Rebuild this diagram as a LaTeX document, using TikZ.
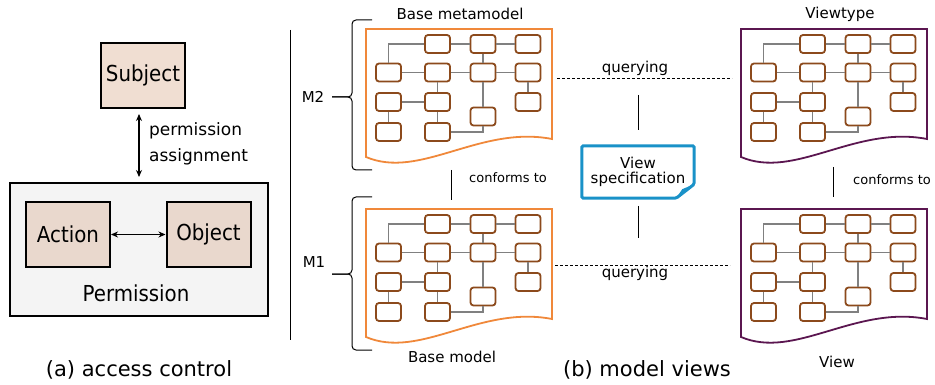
\documentclass[tikz,border=0pt]{standalone}
\usepackage{fontspec}
\setmainfont{DejaVu Sans}
\newfontfamily\condfont{DejaVu Sans}[FakeStretch=0.9]
\usetikzlibrary{arrows.meta,positioning}
\definecolor{docorange}{HTML}{F0883A}
\definecolor{docpurple}{HTML}{5B1650}
\definecolor{cellbrown}{HTML}{8C4A1C}
\definecolor{linkgray}{HTML}{808080}
\definecolor{specblue}{HTML}{1A92C8}
\definecolor{subjfill}{HTML}{F0DED2}
\definecolor{rolefill}{HTML}{E9D8CD}
\definecolor{permfill}{HTML}{F4F4F4}
\tikzset{
    role-box/.style = {draw, line width=2pt, fill=rolefill, minimum width=84pt, minimum height=65pt, inner sep=1pt, font=\condfont\fontsize{22}{24}\selectfont},
    perm-box/.style = {draw, line width=2pt, fill=permfill, minimum width=258pt, minimum height=133pt},
    role-lbl/.style = {font=\condfont\fontsize{22}{24}\selectfont, inner sep=0pt},
    dbl-arrow/.style = {{Stealth[length=7pt,width=6pt]}-{Stealth[length=7pt,width=6pt]}, line width=1.2pt},
    lbl/.style = {font=\fontsize{15}{15}\selectfont, inner sep=0pt},
    small-lbl/.style = {font=\fontsize{13}{15}\selectfont, inner sep=0pt},
    caption/.style = {font=\fontsize{21}{24}\selectfont, inner sep=0pt},
    cell/.style = {draw=cellbrown, line width=1.8pt, fill=white, rounded corners=3pt, minimum width=25pt, minimum height=18pt, inner sep=0pt},
    link/.style = {draw=linkgray, line width=1.2pt},
    doc-frame/.style = {line width=1.8pt, fill=white},
    brace-line/.style = {line width=1pt, rounded corners=4pt},
    query-line/.style = {line width=1pt, dash pattern=on 3pt off 2pt},
    pics/model-doc/.style = {code={
        \draw[doc-frame, draw=#1] (0,0) -- (186,0) -- (186,110)
            .. controls (114,96) and (54,151) .. (0,128) -- cycle;
        \node[cell] (-r1c2) at (71.5,15) {};
        \node[cell] (-r1c3) at (117,15) {};
        \node[cell] (-r1c4) at (162,15) {};
        \node[cell] (-r2c1) at (22.5,43.5) {};
        \node[cell] (-r2c2) at (71.5,43.5) {};
        \node[cell] (-r2c3) at (117,43.5) {};
        \node[cell] (-r2c4) at (162,43.5) {};
        \node[cell] (-r3c1) at (22.5,73) {};
        \node[cell] (-r3c2) at (71.5,73) {};
        \node[cell] (-r3c3) at (117,87.5) {};
        \node[cell] (-r3c4) at (162,73) {};
        \node[cell] (-r4c1) at (22.5,103) {};
        \node[cell] (-r4c2) at (71.5,103) {};
        \draw[link] (-r1c2) -| (-r2c1);
        \draw[link] (-r1c2) -- (-r1c3);
        \draw[link] (-r1c3) -- (-r1c4);
        \draw[link] (-r1c3) -- (-r2c3);
        \draw[link] (-r2c3) -- (-r3c3);
        \draw[link] (-r2c1) -- (-r2c2);
        \draw[link] (-r2c2) -- (-r2c3);
        \draw[link] (-r2c3) -- (-r2c4);
        \draw[link] (-r2c2) -- (-r3c2);
        \draw[link] (-r3c2) -- (-r4c2);
        \draw[link] (-r2c4) -- (-r3c4);
        \draw[link] (-r3c1) -- (-r3c2);
        \draw[link] (-r3c1) -- (-r4c1);
        \draw[link] (-r4c2) -| (-r3c3);
    }},
}

\begin{document}
\begin{tikzpicture}[x=1pt, y=-1pt]
\useasboundingbox (0,0) rectangle (935,385);

% (a) access control
\node[role-box, fill=subjfill] (subject) at (143,75.5) {Subject};
\node[perm-box] (perm) at (139,249.5) {};
\node[role-box] (action) at (68,234.5) {Action};
\node[role-box] (object) at (208.5,234.5) {Object};
\node[role-lbl] (perm-lbl) at (136,293) {Permission};
\draw[dbl-arrow, shorten <=5pt, shorten >=5pt] (perm.north) -- (perm.north |- subject.south);
\node[anchor=west, align=left, inner sep=0pt, font=\fontsize{17}{26}\selectfont] (assign) at (149,144) {permission\\assignment};
\draw[dbl-arrow] (action) -- (object);
\node[caption] (cap-a) at (139,370) {(a) access control};

\draw[line width=1pt] (290,30) coordinate (sep-top) -- (290,340) coordinate (sep-bot);

% (b) model views
\pic (bmm) at (366,29) {model-doc=docorange};
\pic (bm) at (366,209) {model-doc=docorange};
\pic (vt) at (741,29) {model-doc=docpurple};
\pic (vw) at (741,209) {model-doc=docpurple};
\node[lbl] (bmm-title) at (460,14) {Base metamodel};
\node[lbl] (bm-title) at (452,357) {Base model};
\node[lbl] (vt-title) at (840,14) {Viewtype};
\node[lbl] (vw-title) at (837,362) {View};

% levels
\node[lbl] (m2) at (313,97) {M2};
\node[lbl] (m1) at (314,262) {M1};
\coordinate (m2-tip) at (332,97);
\coordinate (m1-tip) at (332,274);
\draw[brace-line] (372,20) -- (352,20) -- (352,97) -- (m2-tip);
\draw[brace-line] (m2-tip) -- (352,97) -- (352,170) -- (372,170);
\draw[brace-line] (372,197) -- (352,197) -- (352,274) -- (m1-tip);
\draw[brace-line] (m1-tip) -- (352,274) -- (352,350) -- (372,350);

% conformance
\coordinate (cf-l-a) at (451,170);
\coordinate (cf-l-b) at (451,200);
\coordinate (cf-r-a) at (833,167);
\coordinate (cf-r-b) at (833,197);
\draw[line width=1pt] (cf-l-a) -- (cf-l-b);
\draw[line width=1pt] (cf-r-a) -- (cf-r-b);
\node[small-lbl] (cf-l) at (508,178) {conforms to};
\node[small-lbl] (cf-r) at (892,180) {conforms to};

% querying
\coordinate (q-up-a) at (557,79);
\coordinate (q-up-b) at (732,79);
\coordinate (q-lo-a) at (555,265);
\coordinate (q-lo-b) at (730,265);
\draw[query-line] (q-up-a) -- (q-up-b);
\draw[query-line] (q-lo-a) -- (q-lo-b);
\node[lbl] (q-up) at (635,68) {querying};
\node[lbl] (q-lo) at (635,273) {querying};

% view specification
\node[lbl, align=center, minimum width=112pt, minimum height=52pt] (spec) at (638,172) {View\\specification};
\draw[line width=1pt] (spec.north |- 0,95) coordinate (sp-a) -- (spec.north |- 0,130) coordinate (sp-b);
\draw[line width=1pt] (spec.south |- 0,206) coordinate (sp-c) -- (spec.south |- 0,238) coordinate (sp-d);
\draw[specblue, line width=3pt, rounded corners=1.5pt] (spec.north west) -- (spec.north east)
    -- ([yshift=14pt]spec.south east) -- ([xshift=-18pt]spec.south east) -- (spec.south west) -- cycle;
\fill[specblue] ([xshift=-18pt]spec.south east) -- ([yshift=14pt]spec.south east)
    -- ([xshift=-12pt,yshift=9pt]spec.south east) -- cycle;

\node[caption] (cap-b) at (647,370) {(b) model views};
\end{tikzpicture}
\end{document}
